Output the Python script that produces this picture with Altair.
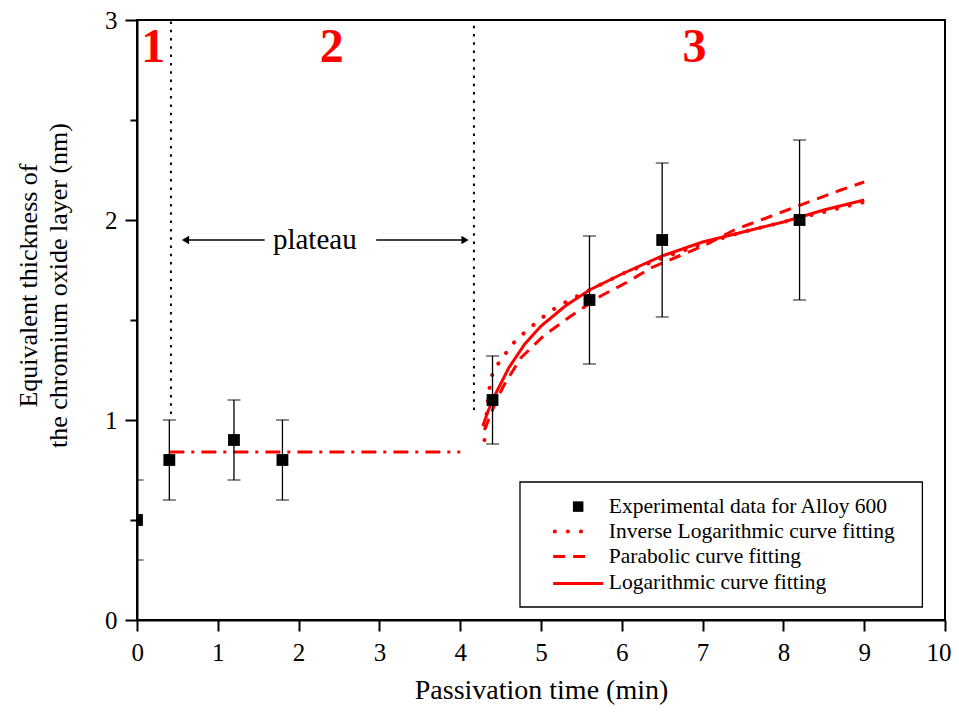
import altair as alt
import pandas as pd

FONT = "Liberation Serif"
RED = "#ff0000"

# experimental data
exp_x = [0, 0.4, 1.2, 1.8, 4.4, 5.6, 6.5, 8.2]
exp_y = [0.5, 0.8, 0.9, 0.8, 1.1, 1.6, 1.9, 2.0]
exp_err = [0.2, 0.2, 0.2, 0.2, 0.22, 0.32, 0.385, 0.4]

# plateau line
plateau_x = [0.4, 4.0]
plateau_y = [0.84, 0.84]

# inverse logarithmic fit (dotted)
inv_x = [4.3, 4.32, 4.35, 4.39, 4.45, 4.52, 4.66, 4.83, 5.01, 5.21, 5.43, 5.7, 6.0, 6.5, 7.0, 7.5, 8.0, 8.5, 9.0]
inv_y = [0.9, 1.0, 1.13, 1.22, 1.27, 1.31, 1.385, 1.45, 1.51, 1.57, 1.615, 1.67, 1.73, 1.81, 1.88, 1.94, 1.99, 2.04, 2.09]

# parabolic fit (dashed)
para_x = [4.3, 4.35, 4.45, 4.55, 4.75, 5.03, 5.37, 5.74, 6.07, 6.36, 6.71, 7.06, 7.39, 7.72, 8.05, 8.38, 8.71, 9.0]
para_y = [0.95, 1.0, 1.1, 1.18, 1.31, 1.42, 1.52, 1.62, 1.69, 1.76, 1.82, 1.88, 1.95, 2.0, 2.05, 2.10, 2.15, 2.19]

# logarithmic fit (solid)
log_x = [4.28, 4.35, 4.45, 4.6, 4.8, 5.0, 5.3, 5.6, 6.0, 6.5, 7.0, 7.5, 8.0, 8.5, 9.0]
log_y = [0.97, 1.05, 1.14, 1.26, 1.38, 1.47, 1.57, 1.65, 1.73, 1.82, 1.89, 1.94, 1.99, 2.05, 2.10]

# stage boundaries (vertical dotted lines)
boundary_x = [0.42, 4.17]
boundary_y0 = [1.03, 1.05]
boundary_y1 = [3.0, 3.0]

# region numbers
region_labels = ["1", "2", "3"]
region_x = [0.2, 2.41, 6.9]
region_y = [2.86, 2.86, 2.86]

# plateau annotation
plateau_text = ["plateau"]
plateau_text_x = [2.2]
plateau_text_y = [1.9]
arrow_x0 = [1.58, 2.96]
arrow_x1 = [0.6, 4.06]
arrow_y = [1.9, 1.9]
arrow_shape = ["triangle-left", "triangle-right"]

# legend
legend_labels = ["Experimental data for Alloy 600", "Inverse Logarithmic curve fitting",
                 "Parabolic curve fitting", "Logarithmic curve fitting"]
legend_rows_y = [0.567, 0.442, 0.317, 0.183]
legend_box = [4.74, 9.72, 0.065, 0.69]
legend_text_x = 5.84

xs = alt.Scale(domain=[0, 10], nice=False, zero=False)
ys = alt.Scale(domain=[0, 3], nice=False, zero=False)

xaxis = alt.Axis(values=list(range(11)), tickSize=11, tickWidth=2, tickColor="black",
                 domainColor="black", domainWidth=2, grid=False,
                 labelFont=FONT, labelFontSize=25, labelColor="black", labelPadding=9,
                 labelFlush=True, labelFlushOffset=6, labelOverlap=False,
                 title="Passivation time (min)", titleFont=FONT, titleFontSize=28,
                 titleFontWeight="normal", titleColor="black",
                 titleX=404, titleY=70, titleBaseline="middle", titleAlign="center")
yaxis = alt.Axis(values=[0, 0.5, 1, 1.5, 2, 2.5, 3],
                 labelExpr="datum.value % 1 === 0 ? format(datum.value, 'd') : ''",
                 tickSize={"condition": {"test": "datum.value % 1 === 0", "value": 12}, "value": 7},
                 tickWidth=2, tickColor="black",
                 domainColor="black", domainWidth=2, grid=False,
                 labelFont=FONT, labelFontSize=25, labelColor="black", labelPadding=8,
                 labelFlush=False, labelOverlap=False,
                 title=["Equivalent thickness of", "the chromium oxide layer (nm)"],
                 titleFont=FONT, titleFontSize=26, titleFontWeight="normal", titleColor="black",
                 titleX=-109, titleY=265, titleAngle=-90, titleBaseline="middle",
                 titleAlign="center", titleLineHeight=30)

X = alt.X("x:Q", scale=xs, axis=xaxis)
Y = alt.Y("y:Q", scale=ys, axis=yaxis)


def df(x, y, **kw):
    d = pd.DataFrame({"x": x, "y": y})
    for k, v in kw.items():
        d[k] = v
    return d


def line(data, dash=None, width=3.0, color=RED, cap="butt"):
    kw = dict(color=color, strokeWidth=width, strokeCap=cap)
    if dash:
        kw["strokeDash"] = dash
    return alt.Chart(data).mark_line(**kw).encode(x=X, y=Y)


DOT = [0.1, 13]
DASH = [12, 8]
DASHDOT = [15, 7, 3, 7]

layers = []

# stage boundaries
bd = pd.DataFrame({"x": boundary_x, "y": boundary_y0, "y2": boundary_y1})
layers.append(alt.Chart(bd).mark_rule(color="black", strokeWidth=2, strokeDash=[2.5, 5.8]).encode(
    x=X, y=Y, y2="y2:Q"))

# plateau line
layers.append(line(df(plateau_x, plateau_y), DASHDOT, 3))

# fits
layers.append(line(df(inv_x, inv_y), DOT, 4, cap="round"))
layers.append(line(df(para_x, para_y), DASH, 3))
layers.append(line(df(log_x, log_y), None, 3))

# error bars
ed = pd.DataFrame({"x": exp_x, "y": exp_y, "err": exp_err})
ed["lo"] = ed["y"] - ed["err"]
ed["hi"] = ed["y"] + ed["err"]
layers.append(alt.Chart(ed).mark_rule(color="black", strokeWidth=1.3, clip=True).encode(
    x=X, y=alt.Y("lo:Q", scale=ys, axis=yaxis), y2="hi:Q"))
caps = pd.concat([pd.DataFrame({"x": exp_x, "y": ed["lo"]}), pd.DataFrame({"x": exp_x, "y": ed["hi"]})])
layers.append(alt.Chart(caps).mark_tick(color="black", orient="horizontal", size=13, thickness=1.3,
                                         clip=True).encode(x=X, y=Y))
# squares
layers.append(alt.Chart(df(exp_x, exp_y)).mark_square(color="black", size=140, opacity=1, clip=True).encode(
    x=X, y=Y))

# region labels
layers.append(alt.Chart(pd.DataFrame({"x": region_x, "y": region_y, "t": region_labels})).mark_text(
    font=FONT, fontSize=48, fontWeight="bold", color=RED, align="center", baseline="middle").encode(
    x=X, y=Y, text="t:N"))

# plateau annotation
layers.append(alt.Chart(pd.DataFrame({"x": plateau_text_x, "y": plateau_text_y, "t": plateau_text})).mark_text(
    font=FONT, fontSize=29, color="black", align="center", baseline="middle").encode(x=X, y=Y, text="t:N"))
ad = pd.DataFrame({"x": arrow_x0, "x2": arrow_x1, "y": arrow_y})
layers.append(alt.Chart(ad).mark_rule(color="black", strokeWidth=1.5).encode(x=X, x2="x2:Q", y=Y))
ah = pd.DataFrame({"x": arrow_x1, "y": arrow_y, "s": arrow_shape})
layers.append(alt.Chart(ah).mark_point(filled=True, color="black", opacity=1, size=70).encode(
    x=X, y=Y, shape=alt.Shape("s:N", scale=None)))

# legend
lb = pd.DataFrame({"x": [legend_box[0]], "x2": [legend_box[1]], "y": [legend_box[2]], "y2": [legend_box[3]]})
layers.append(alt.Chart(lb).mark_rect(fill="white", stroke="black", strokeWidth=1.3).encode(
    x=X, x2="x2:Q", y=Y, y2="y2:Q"))
layers.append(alt.Chart(df([5.46], [legend_rows_y[0]])).mark_square(color="black", size=110, opacity=1).encode(
    x=X, y=Y))
layers.append(line(df([5.17, 5.62], [legend_rows_y[1]] * 2), DOT, 4, cap="round"))
layers.append(line(df([5.15, 5.56], [legend_rows_y[2]] * 2), DASH, 3))
layers.append(line(df([5.15, 5.77], [legend_rows_y[3]] * 2), None, 3))
layers.append(alt.Chart(pd.DataFrame({"x": [legend_text_x] * 4, "y": legend_rows_y, "t": legend_labels})).mark_text(
    font=FONT, fontSize=21.5, color="black", align="left", baseline="middle").encode(x=X, y=Y, text="t:N"))

chart = alt.layer(*layers).properties(
    width=808, height=600, autosize="none",
    padding={"left": 129, "top": 12, "right": 6, "bottom": 85},
).configure_view(stroke="black", strokeWidth=2)

chart.save("out.html", embed_options={"renderer": "svg", "actions": False})
